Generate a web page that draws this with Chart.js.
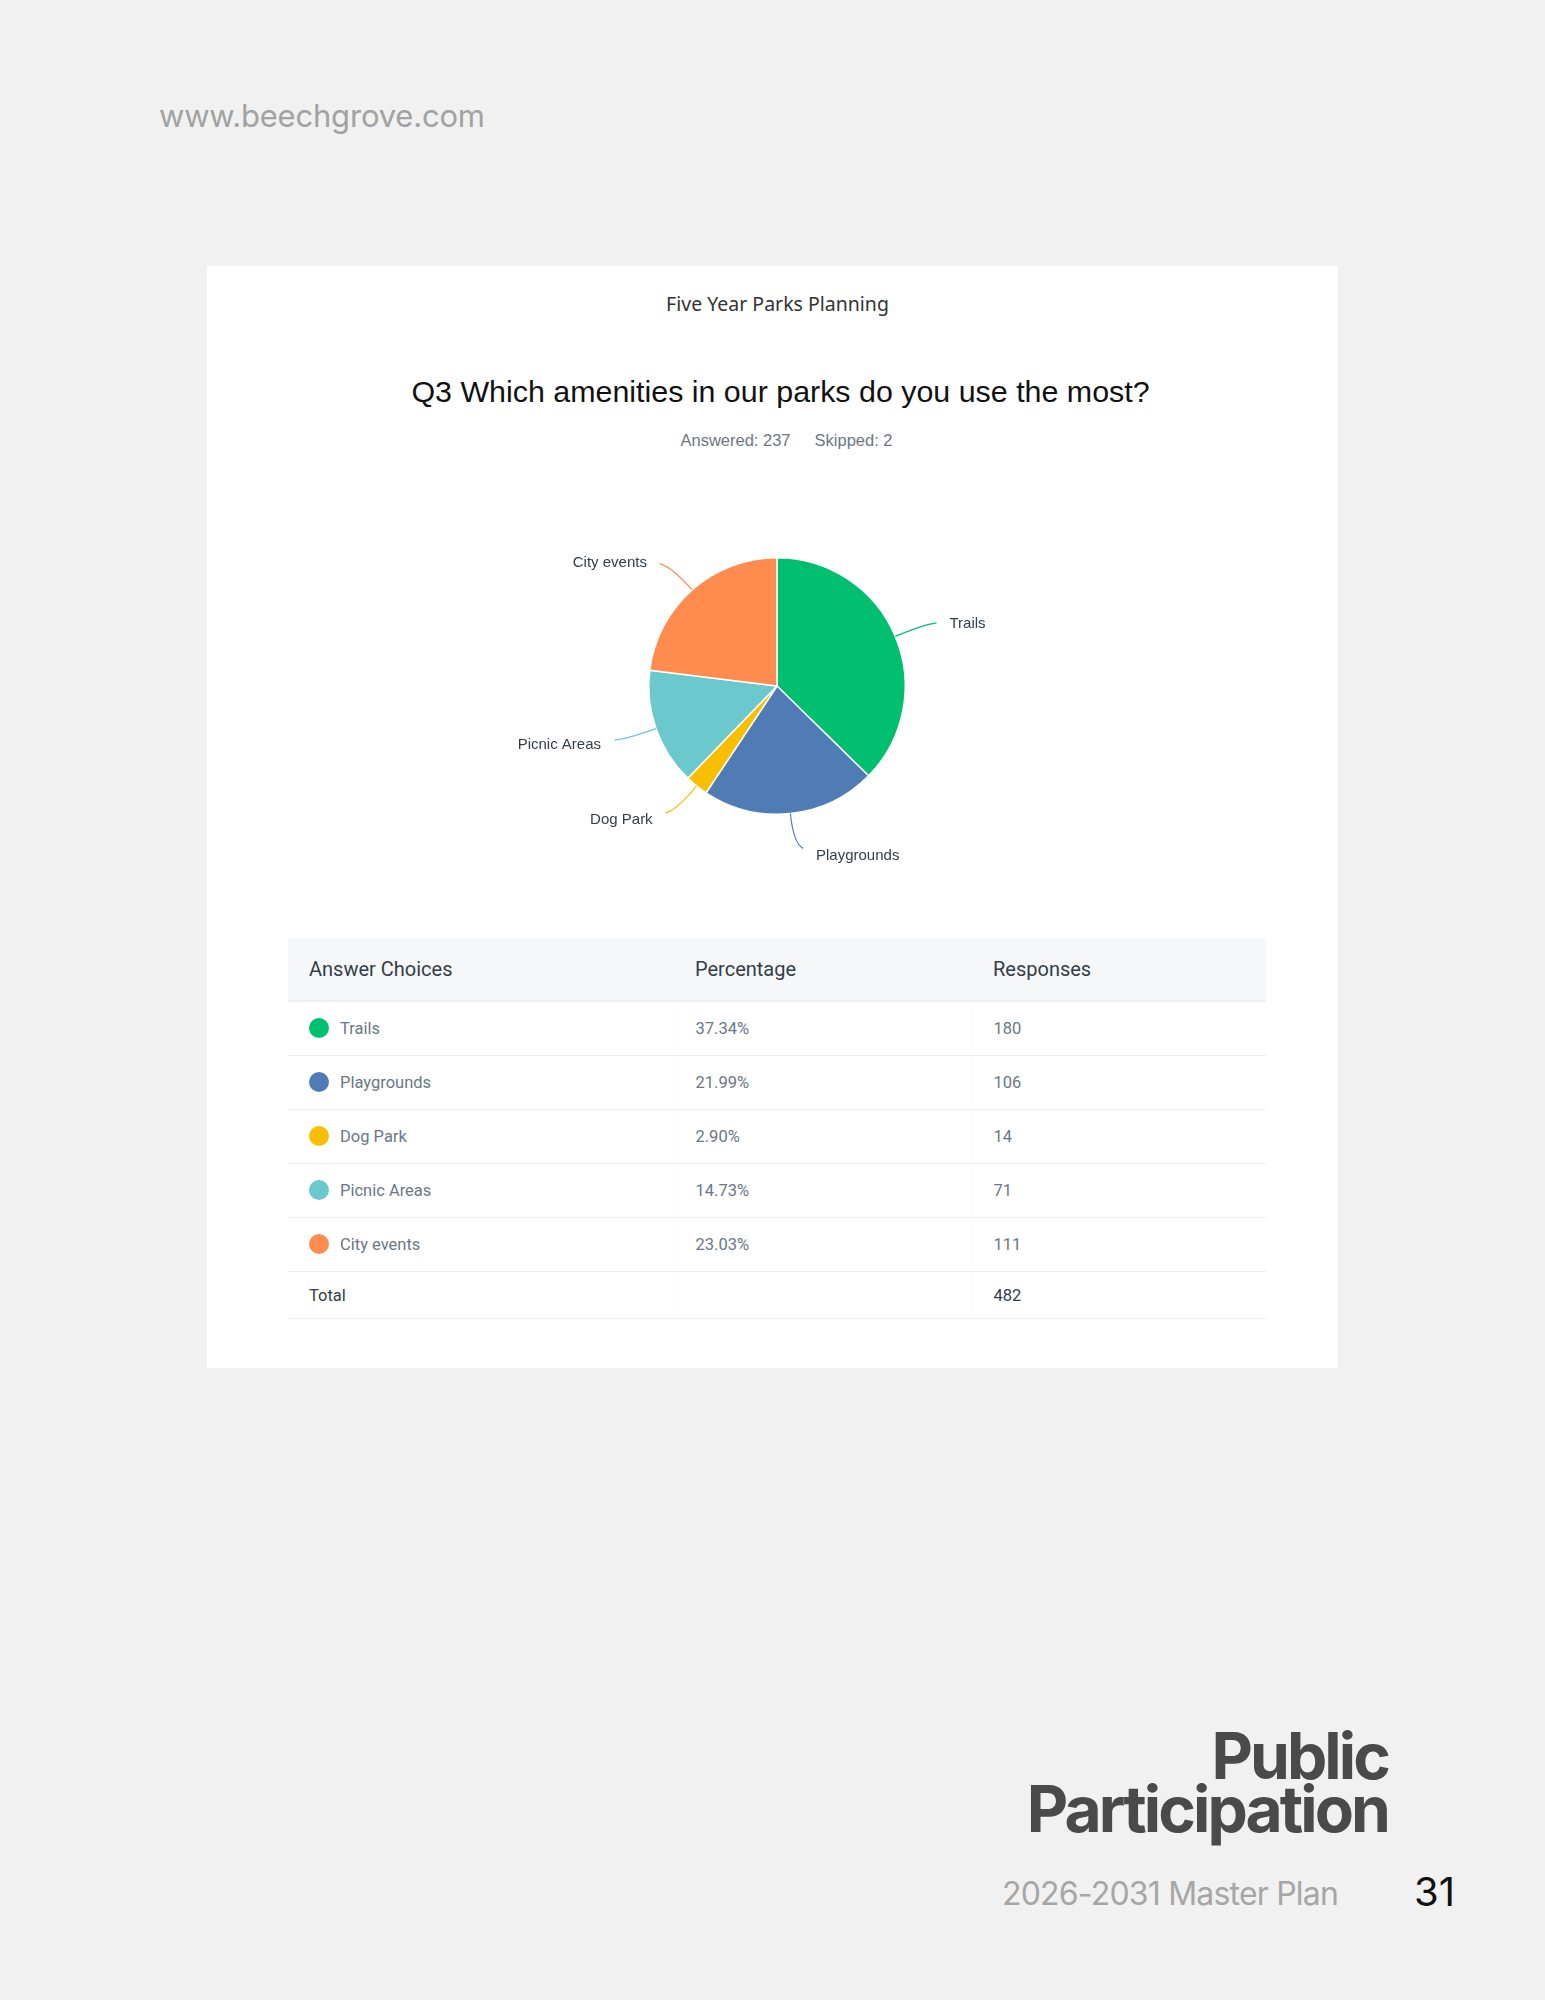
<!DOCTYPE html>
<html>
<head>
<meta charset="utf-8">
<title>Five Year Parks Planning - Q3</title>
<script src="https://cdn.jsdelivr.net/npm/chart.js"></script>
<style>
  html, body { margin: 0; padding: 0; }
  body { width: 1545px; height: 2000px; background: #f1f1f1; position: relative; overflow: hidden; font-family: Inter, "Noto Sans", sans-serif; }
  .site { position: absolute; left: 159px; top: 97px; font-size: 31px; color: #a2a2a2; letter-spacing: -0.2px; }
  .card { position: absolute; left: 207px; top: 266px; width: 1131px; height: 1102px; background: #fff; }
  .survey { position: absolute; left: 5px; width: 100%; top: 290px; text-align: center; font-family: "Noto Sans", sans-serif; font-size: 19.5px; color: #333; }
  .question { position: absolute; left: 8px; width: 100%; top: 374px; text-align: center; font-family: "Liberation Sans", Arial, sans-serif; font-size: 30.4px; color: #111; }
  .stats { position: absolute; left: 14px; width: 100%; top: 431px; text-align: center; font-family: "Liberation Sans", Arial, sans-serif; font-size: 16.5px; color: #6b7785; }
  .stats span + span { margin-left: 24px; }
  #pie { position: absolute; left: 497px; top: 506px; }
  table { position: absolute; left: 288px; top: 938px; width: 978px; border-collapse: collapse; font-family: Roboto, sans-serif; }
  th { background: #f6f7f9; height: 62px; text-align: left; font-weight: 400; font-size: 20px; color: #333e48; padding: 0 0 0 21px; border-bottom: 2px solid #eceef0; }
  td { height: 53px; padding: 0 0 0 21px; font-size: 16.5px; color: #6b7785; border-bottom: 1px solid #eceef0; border-left: 1px solid #fbfbfb; }
  td:first-child { border-left: none; }
  th.c1 { width: 365px; } th.c2 { width: 277px; }
  td .dot { display: inline-block; width: 20px; height: 20px; border-radius: 50%; vertical-align: middle; margin: -3px 11px 0 0; }
  tr.total td { height: 46px; color: #333e48; }
  .heading { position: absolute; right: 157px; text-align: right; font-weight: 700; font-size: 64px; line-height: 53px; height: 53px; color: #4a4a4a; letter-spacing: -2.9px; white-space: nowrap; }
  .h1 { top: 1729px; }
  .h2 { top: 1782px; }
  .plan { position: absolute; left: 1002px; top: 1874px; font-size: 32px; color: #a6a6a6; letter-spacing: -0.8px; }
  .page { position: absolute; left: 1414px; top: 1867px; font-size: 40px; color: #111; }
</style>
</head>
<body>
<div class="site">www.beechgrove.com</div>
<div class="card"></div>
<div class="survey">Five Year Parks Planning</div>
<div class="question">Q3 Which amenities in our parks do you use the most?</div>
<div class="stats"><span>Answered: 237</span><span>Skipped: 2</span></div>
<canvas id="pie" width="560" height="360"></canvas>
<table id="tbl">
  <thead><tr><th class="c1">Answer Choices</th><th class="c2">Percentage</th><th>Responses</th></tr></thead>
  <tbody></tbody>
</table>
<div class="heading h1">Public</div>
<div class="heading h2">Participation</div>
<div class="plan">2026-2031 Master Plan</div>
<div class="page">31</div>

<script>
// ----- data -----
const categories = ["Trails", "Playgrounds", "Dog Park", "Picnic Areas", "City events"];
const responses = [180, 106, 14, 71, 111];
const percentages = ["37.34%", "21.99%", "2.90%", "14.73%", "23.03%"];
const colors = ["#00bf6f", "#507cb6", "#f9be00", "#6bc8cd", "#ff8b4f"];
const totalResponses = 482;

// ----- table -----
const tbody = document.querySelector("#tbl tbody");
categories.forEach(function (name, i) {
    const tr = document.createElement("tr");
    tr.innerHTML = '<td><span class="dot" style="background:' + colors[i] + '"></span>' + name + '</td>' +
        '<td>' + percentages[i] + '</td><td>' + responses[i] + '</td>';
    tbody.appendChild(tr);
});
const totalRow = document.createElement("tr");
totalRow.className = "total";
totalRow.innerHTML = '<td>Total</td><td></td><td>' + totalResponses + '</td>';
tbody.appendChild(totalRow);

// ----- leader lines + outside labels -----
const leaderLabels = {
    id: "leaderLabels",
    afterDatasetsDraw(chart) {
        const ctx = chart.ctx;
        const meta = chart.getDatasetMeta(0);
        ctx.save();
        ctx.font = '15px "Liberation Sans", Arial, sans-serif';
        ctx.textBaseline = "middle";
        meta.data.forEach(function (arc, i) {
            const p = arc.getProps(["x", "y", "startAngle", "endAngle", "outerRadius"], true);
            const mid = (p.startAngle + p.endAngle) / 2;
            const cx = Math.cos(mid), cy = Math.sin(mid);
            const side = cx >= 0 ? 1 : -1;
            const sx = p.x + cx * p.outerRadius, sy = p.y + cy * p.outerRadius;
            const kx = sx + cx * 30, ky = sy + cy * 30;
            const ex = sx + cx * 35 + side * 9, ey = sy + cy * 35;
            ctx.strokeStyle = colors[i];
            ctx.lineWidth = 1.2;
            ctx.beginPath();
            ctx.moveTo(sx, sy);
            ctx.quadraticCurveTo(kx, ky, ex, ey);
            ctx.stroke();
            ctx.fillStyle = "#333e48";
            ctx.textAlign = side > 0 ? "left" : "right";
            ctx.fillText(categories[i], ex + side * 13, ey + 3 + cy * 5);
        });
        ctx.restore();
    }
};

new Chart(document.getElementById("pie"), {
    type: "pie",
    data: {
        labels: categories,
        datasets: [{
            data: responses,
            backgroundColor: colors,
            borderColor: "#ffffff",
            borderWidth: 1.5
        }]
    },
    options: {
        responsive: false,
        animation: false,
        layout: { padding: { top: 51, bottom: 51 } },
        plugins: { legend: { display: false }, tooltip: { enabled: false } }
    },
    plugins: [leaderLabels]
});
</script>
</body>
</html>
